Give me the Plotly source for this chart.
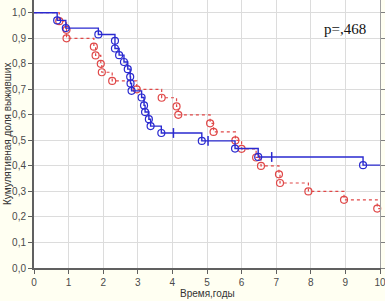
import plotly.graph_objects as go

# ---- data ----
blue_t = [0.67, 0.92, 1.86, 2.34, 2.34, 2.46, 2.60, 2.71, 2.78, 2.79, 2.82, 3.11, 3.18, 3.21,
          3.32, 3.37, 3.68, 4.85, 5.81, 6.48, 9.51]
blue_s = [0.970, 0.940, 0.915, 0.890, 0.860, 0.834, 0.807, 0.779, 0.749, 0.723, 0.694, 0.668,
          0.637, 0.611, 0.583, 0.556, 0.529, 0.498, 0.468, 0.435, 0.403]
blue_cens_t = [4.03, 5.03, 6.87]
blue_cens_s = [0.529, 0.498, 0.435]

red_t = [0.73, 0.94, 0.94, 1.73, 1.78, 1.93, 1.96, 2.26, 2.97, 3.69, 4.12, 4.17, 5.09, 5.19,
         5.82, 6.00, 6.42, 6.56, 7.08, 7.11, 7.93, 8.96, 9.92]
red_s = [0.967, 0.933, 0.900, 0.867, 0.833, 0.800, 0.767, 0.733, 0.700, 0.667, 0.633, 0.600,
         0.567, 0.533, 0.500, 0.467, 0.433, 0.400, 0.367, 0.333, 0.300, 0.267, 0.233]

x_ticks = [0, 1, 2, 3, 4, 5, 6, 7, 8, 9, 10]
x_ticklabels = ["0", "1", "2", "3", "4", "5", "6", "7", "8", "9", "10"]
y_ticks = [0.0, 0.1, 0.2, 0.3, 0.4, 0.5, 0.6, 0.7, 0.8, 0.9, 1.0]
y_ticklabels = ["0,0", "0,1", "0,2", "0,3", "0,4", "0,5", "0,6", "0,7", "0,8", "0,9", "1,0"]
x_max = 10
y_max = 1.05
p_text = "p=,468"
x_title = "Время,годы"
y_title = "Кумулятивная доля выживших"

BLUE = "#2a2ad0"
RED = "#e04848"

def step_path(t, s, extra_t, extra_s, tmax):
    pts = sorted(list(zip(t, s)) + list(zip(extra_t, extra_s)), key=lambda p: (p[0], -p[1]))
    xs = [0] + [p[0] for p in pts] + [tmax]
    ys = [1.0] + [p[1] for p in pts] + [pts[-1][1]]
    return xs, ys

fig = go.Figure()

rx, ry = step_path(red_t, red_s, [], [], x_max)
fig.add_trace(go.Scatter(x=rx, y=ry, mode="lines", line=dict(color=RED, width=1.2, dash="dot", shape="hv"),
                         showlegend=False, hoverinfo="skip", cliponaxis=False))
fig.add_trace(go.Scatter(x=red_t, y=red_s, mode="markers",
                         marker=dict(symbol="circle-open", size=7, color=RED, line=dict(width=1.2)),
                         showlegend=False, cliponaxis=False))

bx, by = step_path(blue_t, blue_s, blue_cens_t, blue_cens_s, x_max)
fig.add_trace(go.Scatter(x=bx, y=by, mode="lines", line=dict(color=BLUE, width=1.4, shape="hv"),
                         showlegend=False, hoverinfo="skip"))
fig.add_trace(go.Scatter(x=blue_t, y=blue_s, mode="markers",
                         marker=dict(symbol="circle-open", size=7, color=BLUE, line=dict(width=1.2)),
                         showlegend=False, cliponaxis=False))
fig.add_trace(go.Scatter(x=blue_cens_t, y=blue_cens_s, mode="markers",
                         marker=dict(symbol="line-ns", size=7, color=BLUE, line=dict(width=1.5, color=BLUE)),
                         showlegend=False))

# invisible trace to activate mirrored axes
fig.add_trace(go.Scatter(x=[0], y=[0], xaxis="x2", yaxis="y2", mode="markers",
                         marker=dict(opacity=0), showlegend=False, hoverinfo="skip"))

tickfont = dict(family="Liberation Sans, Arial", size=10, color="#4a4a4a")
titlefont = dict(family="Liberation Sans, Arial", size=10, color="#333")
fig.update_layout(
    width=385, height=301,
    margin=dict(l=34, r=5, t=0, b=33, autoexpand=False),
    paper_bgcolor="#fffff2",
    plot_bgcolor="#ffffff",
    xaxis=dict(range=[0, x_max], tickvals=x_ticks, ticktext=x_ticklabels, tickfont=tickfont,
               automargin=False, ticklabeloverflow="allow",
               showgrid=True, gridcolor="#dcdcdc", gridwidth=1, zeroline=False,
               showline=True, linecolor="#606060", linewidth=2, ticks="outside", ticklen=4,
               tickcolor="#606060"),
    yaxis=dict(range=[0, y_max], tickvals=y_ticks, ticktext=y_ticklabels, tickfont=tickfont,
               automargin=False,
               showgrid=True, gridcolor="#dcdcdc", gridwidth=1, zeroline=False,
               showline=True, linecolor="#606060", linewidth=2, ticks="outside", ticklen=4,
               tickcolor="#606060"),
    xaxis2=dict(overlaying="x", side="top", range=[0, x_max], tickvals=x_ticks, showticklabels=False,
                automargin=False,
                showgrid=False, zeroline=False, showline=True, linecolor="#a0a0a0", linewidth=1,
                ticks="outside", ticklen=4, tickcolor="#808080"),
    yaxis2=dict(overlaying="y", side="right", range=[0, y_max], tickvals=y_ticks, showticklabels=False,
                automargin=False,
                showgrid=False, zeroline=False, showline=True, linecolor="#a0a0a0", linewidth=1,
                ticks="outside", ticklen=4, tickcolor="#808080"),
    annotations=[
        dict(x=0.965, y=0.89, xref="paper", yref="paper", xanchor="right", yanchor="middle",
             text=p_text, showarrow=False,
             font=dict(family="Liberation Serif, Times New Roman", size=15, color="#111")),
        dict(x=0.5, y=-0.095, xref="paper", yref="paper", xanchor="center", yanchor="middle",
             text=x_title, showarrow=False, font=titlefont),
        dict(x=-0.078, y=0.5, xref="paper", yref="paper", xanchor="center", yanchor="middle",
             text=y_title, textangle=-90, showarrow=False, font=titlefont),
    ],
)

fig.write_html("out.html", config={"displayModeBar": False},
               post_script="document.body.style.margin='0';document.body.style.padding='0';")
